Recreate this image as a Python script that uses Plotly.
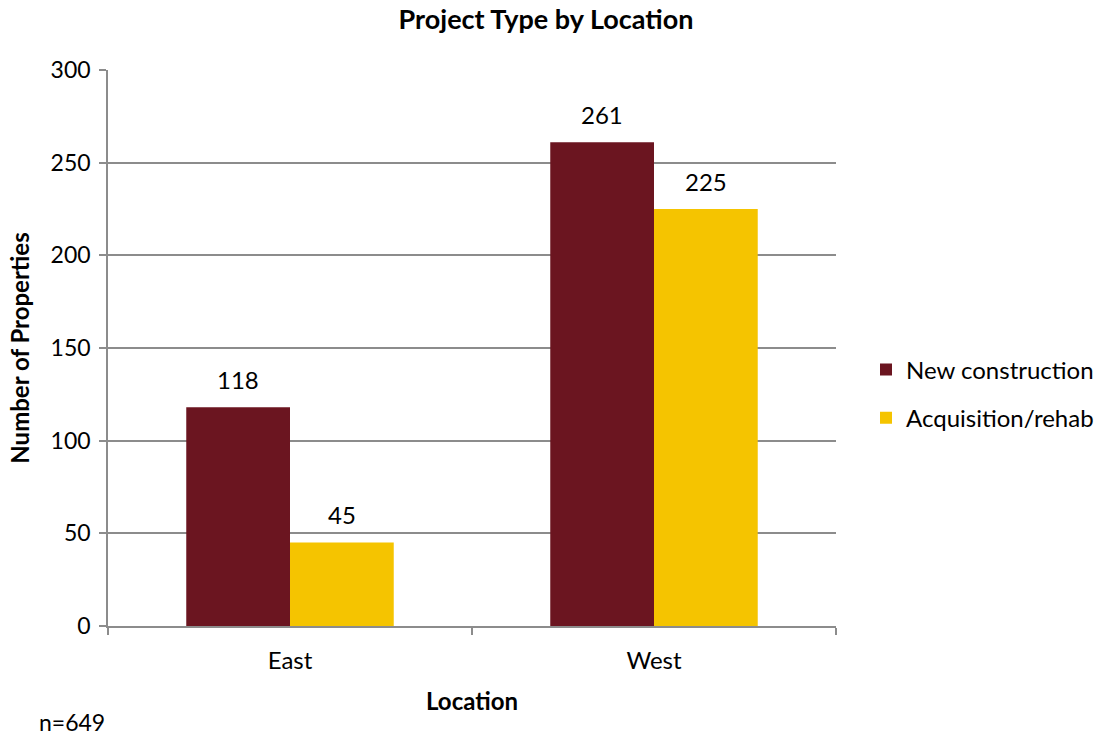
import plotly.graph_objects as go

locations = ["East", "West"]
new_construction = [118, 261]
acquisition_rehab = [45, 225]
series = [
    ("New construction", new_construction, "#6B1520"),
    ("Acquisition/rehab", acquisition_rehab, "#F5C400"),
]

FONT = "Lato, 'Open Sans', sans-serif"
GRID = "#8c8c8c"
BARGAP = 0.43
PLOT_W = 1099 - 108 - 263

fig = go.Figure()
for i, (name, vals, color) in enumerate(series):
    fig.add_trace(go.Bar(
        name=name, x=locations, y=vals, legendgroup=name,
        marker=dict(color=color, line=dict(width=0)),
    ))

# value labels above each bar, offset to the bar's slot within its group
bar_px = PLOT_W / len(locations) * (1 - BARGAP) / len(series)
for i, (name, vals, color) in enumerate(series):
    offset = (i - (len(series) - 1) / 2) * bar_px
    for loc, v in zip(locations, vals):
        fig.add_annotation(x=loc, y=v, text=str(v), showarrow=False,
                           xshift=offset, yshift=28, yanchor="middle",
                           font=dict(size=24, color="#000000"))

fig.update_layout(
    width=1099, height=735,
    margin=dict(l=108, r=263, t=70, b=109, autoexpand=False),
    paper_bgcolor="white", plot_bgcolor="white",
    font=dict(family=FONT, size=24, color="#000000"),
    barmode="group", bargap=BARGAP, bargroupgap=0,
    title=dict(text="<b>Project Type by Location</b>", x=546 / 1099, xref="container",
               xanchor="center", y=0.973, yanchor="middle", font=dict(size=27)),
    legend=dict(xref="container", yref="container", x=866 / 1099, y=1 - 394 / 735,
                xanchor="left", yanchor="middle",
                font=dict(size=24), tracegroupgap=14, itemwidth=30,
                traceorder="grouped"),
    showlegend=True,
)

fig.update_xaxes(
    showline=True, linecolor=GRID, linewidth=1.5,
    ticks="outside", tickson="boundaries", ticklen=7, tickcolor=GRID, tickwidth=1.5,
    tickfont=dict(size=24), ticklabelstandoff=12,
    title=dict(text="<b>Location</b>", font=dict(size=24), standoff=21),
)
fig.update_yaxes(
    range=[0, 300], dtick=50,
    showline=True, linecolor=GRID, linewidth=1.5,
    showgrid=True, gridcolor=GRID, gridwidth=1.5,
    zeroline=False,
    ticks="outside", ticklen=7, tickcolor=GRID, tickwidth=1.5,
    tickfont=dict(size=23), ticklabelstandoff=4,
    title=dict(text="<b>Number of Properties</b>", font=dict(size=24), standoff=14),
)

fig.add_annotation(text="n=649", xref="paper", yref="paper",
                   x=-0.097, y=-0.1727, xanchor="left", yanchor="middle",
                   showarrow=False, font=dict(size=23))

fig.write_html("out.html")
